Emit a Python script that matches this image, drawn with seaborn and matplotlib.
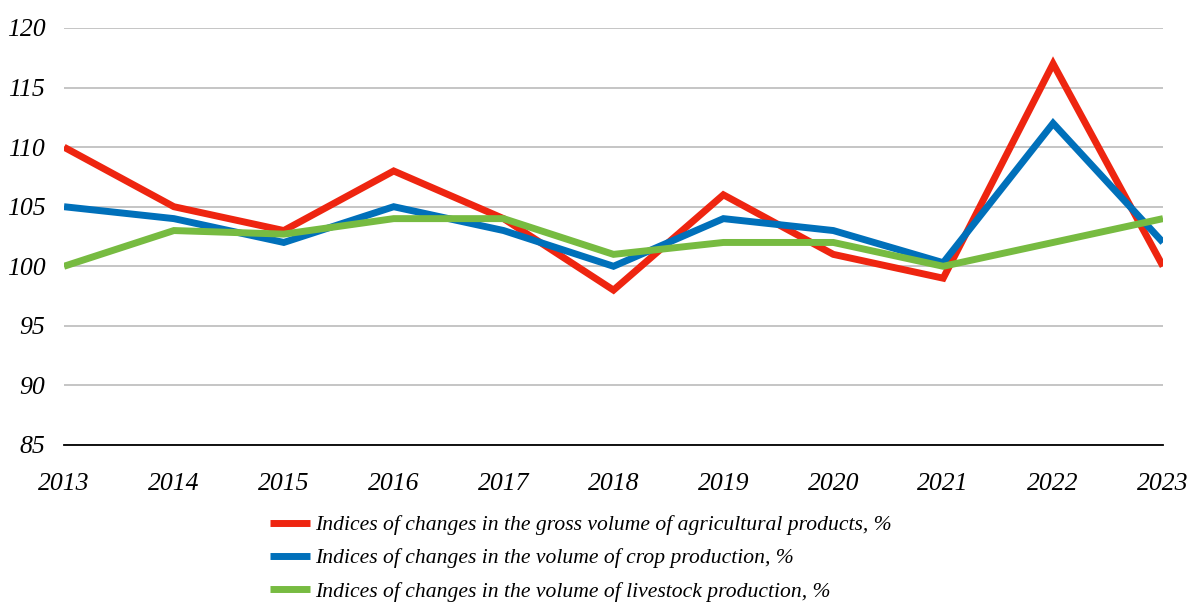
import pandas as pd
import matplotlib.pyplot as plt
import seaborn as sns

# data
years = [2013, 2014, 2015, 2016, 2017, 2018, 2019, 2020, 2021, 2022, 2023]
gross = [110, 105, 103, 108, 104, 98, 106, 101, 99, 117, 100]
crop = [105, 104, 102, 105, 103, 100, 104, 103, 100.3, 112, 102]
livestock = [100, 103, 102.7, 104, 104, 101, 102, 102, 100, 102, 104]

labels = [
    "Indices of changes in the gross volume of agricultural products, %",
    "Indices of changes in the volume of crop production, %",
    "Indices of changes in the volume of livestock production, %",
]
colors = ["#EE2510", "#0070BA", "#77BB41"]

df = pd.DataFrame({"year": years, labels[0]: gross, labels[1]: crop, labels[2]: livestock})
long_df = df.melt(id_vars="year", var_name="series", value_name="value")

sns.set_style("white")
plt.rcParams["font.family"] = ["Liberation Serif", "DejaVu Serif"]
plt.rcParams["font.style"] = "italic"
plt.rcParams["text.color"] = "black"
plt.rcParams["xtick.color"] = "black"
plt.rcParams["ytick.color"] = "black"

fig = plt.figure(figsize=(11.89, 6.04), dpi=100)
ax = fig.add_axes([64 / 1189, 1 - 445 / 604, (1163 - 64) / 1189, (445 - 28) / 604])

sns.lineplot(data=long_df, x="year", y="value", hue="series", palette=colors,
             hue_order=labels, linewidth=5, ax=ax, legend=False)
for ln in ax.lines:
    ln.set_solid_capstyle("butt")
    ln.set_solid_joinstyle("miter")

ax.set_xlim(2013, 2023)
ax.set_ylim(85, 120)
ax.set_xticks(years)
ax.set_yticks(range(85, 121, 5))
ax.set_xlabel("")
ax.set_ylabel("")
ax.yaxis.grid(True, color="#c0c0c0", linewidth=1.3)
ax.set_axisbelow(True)
for s in ["left", "right", "top"]:
    ax.spines[s].set_visible(False)
ax.spines["bottom"].set_color("black")
ax.spines["bottom"].set_linewidth(1.3)
ax.tick_params(axis="y", length=0, pad=13.5, labelsize=18.5)
ax.tick_params(axis="x", length=0, pad=20, labelsize=18.5)
for t in ax.get_xticklabels() + ax.get_yticklabels():
    t.set_fontstyle("italic")

handles = [plt.Line2D([], [], color=c, linewidth=5, solid_capstyle="butt") for c in colors]
fig.legend(handles, labels, loc="upper left", bbox_to_anchor=(270 / 1189, 1 - 515 / 604),
           frameon=False, handlelength=1.85, handletextpad=0.25,
           labelspacing=0.6, borderpad=0, borderaxespad=0,
           prop={"style": "italic", "size": 15.6})

plt.savefig("out.png", dpi=100)
